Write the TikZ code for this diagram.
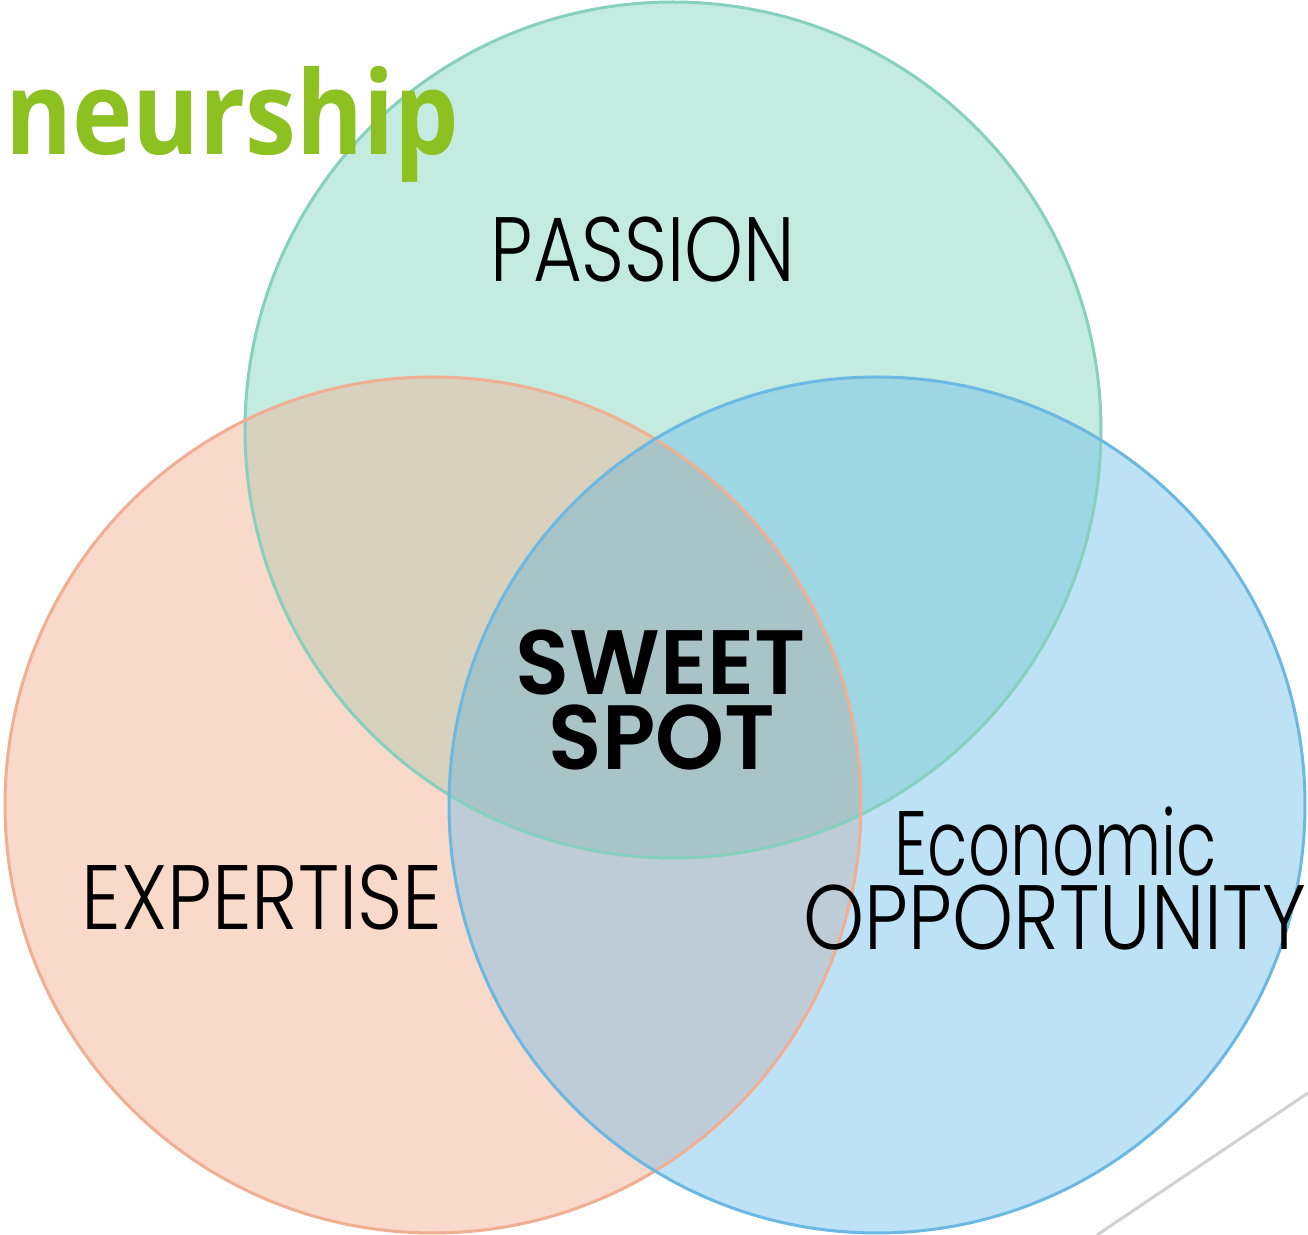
\documentclass[tikz,border=0pt]{standalone}
\usepackage{fontspec}
\setmainfont{Poppins}
\newfontfamily\thinfont{Poppins Light}
\newfontfamily\heavyfont{Poppins SemiBold}
\newfontfamily\titlefont{Open Sans}
\usepackage{tikz}
\usetikzlibrary{positioning}
\definecolor{passionfill}{HTML}{C4EBDF}
\definecolor{passionline}{HTML}{86D0BE}
\definecolor{expertfill}{HTML}{F9D9CA}
\definecolor{expertline}{HTML}{F0AE92}
\definecolor{oppfill}{HTML}{BEE2F5}
\definecolor{oppline}{HTML}{6BB9E2}
\definecolor{pefill}{HTML}{D7D1BD}
\definecolor{pofill}{HTML}{9DD7E3}
\definecolor{eofill}{HTML}{BDCCD7}
\definecolor{sweetfill}{HTML}{A8C4C7}
\definecolor{titlegreen}{HTML}{8DC021}
\newcommand{\passionpath}{(673,430) circle [radius=42.8mm]}
\newcommand{\expertpath}{(433,805) circle [radius=42.8mm]}
\newcommand{\opppath}{(877,805) circle [radius=42.8mm]}

\begin{document}
\begin{tikzpicture}[x=0.1mm,y=-0.1mm,
  thin label/.style={inner sep=0pt,anchor=base,font=\thinfont\fontsize{26}{26}\selectfont},
  sweet label/.style={inner sep=0pt,anchor=base,font=\heavyfont\fontsize{26}{26}\selectfont}]
\useasboundingbox (0,0) rectangle (1308,1235);

% circles
\fill[passionfill] \passionpath;
\fill[expertfill] \expertpath;
\fill[oppfill] \opppath;

% overlaps
\begin{scope}
\clip \passionpath;
\fill[pefill] \expertpath;
\fill[pofill] \opppath;
\end{scope}
\begin{scope}
\clip \expertpath;
\fill[eofill] \opppath;
\end{scope}
\begin{scope}
\clip \passionpath;
\clip \expertpath;
\fill[sweetfill] \opppath;
\end{scope}

\draw[passionline,line width=0.3mm] \passionpath;
\draw[expertline,line width=0.3mm] \expertpath;
\draw[oppline,line width=0.3mm] \opppath;

% labels
\node[thin label,xscale=0.82] (passion) at (643,282) {PASSION};
\node[thin label,xscale=0.865] (expertise) at (262,930) {EXPERTISE};
\node[thin label,xscale=0.72] (economic) at (1056,876) {Economic};
\node[thin label,xscale=0.85] (opportunity) at (1055,950) {OPPORTUNITY};
\node[sweet label,xscale=0.97] (sweet) at (661,695) {SWEET};
\node[sweet label,xscale=0.96] (spot) at (662,770) {SPOT};

\node[inner sep=0pt,anchor=base east,text=titlegreen,xscale=0.88,
  font=\titlefont\bfseries\fontsize{33}{33}\selectfont] (title) at (460,155) {eneurship};

% corner line
\coordinate (lineA) at (1097,1235);
\coordinate (lineB) at (1308,1093);
\draw[black!18,line width=0.3mm] (lineA) -- (lineB);
\end{tikzpicture}
\end{document}
